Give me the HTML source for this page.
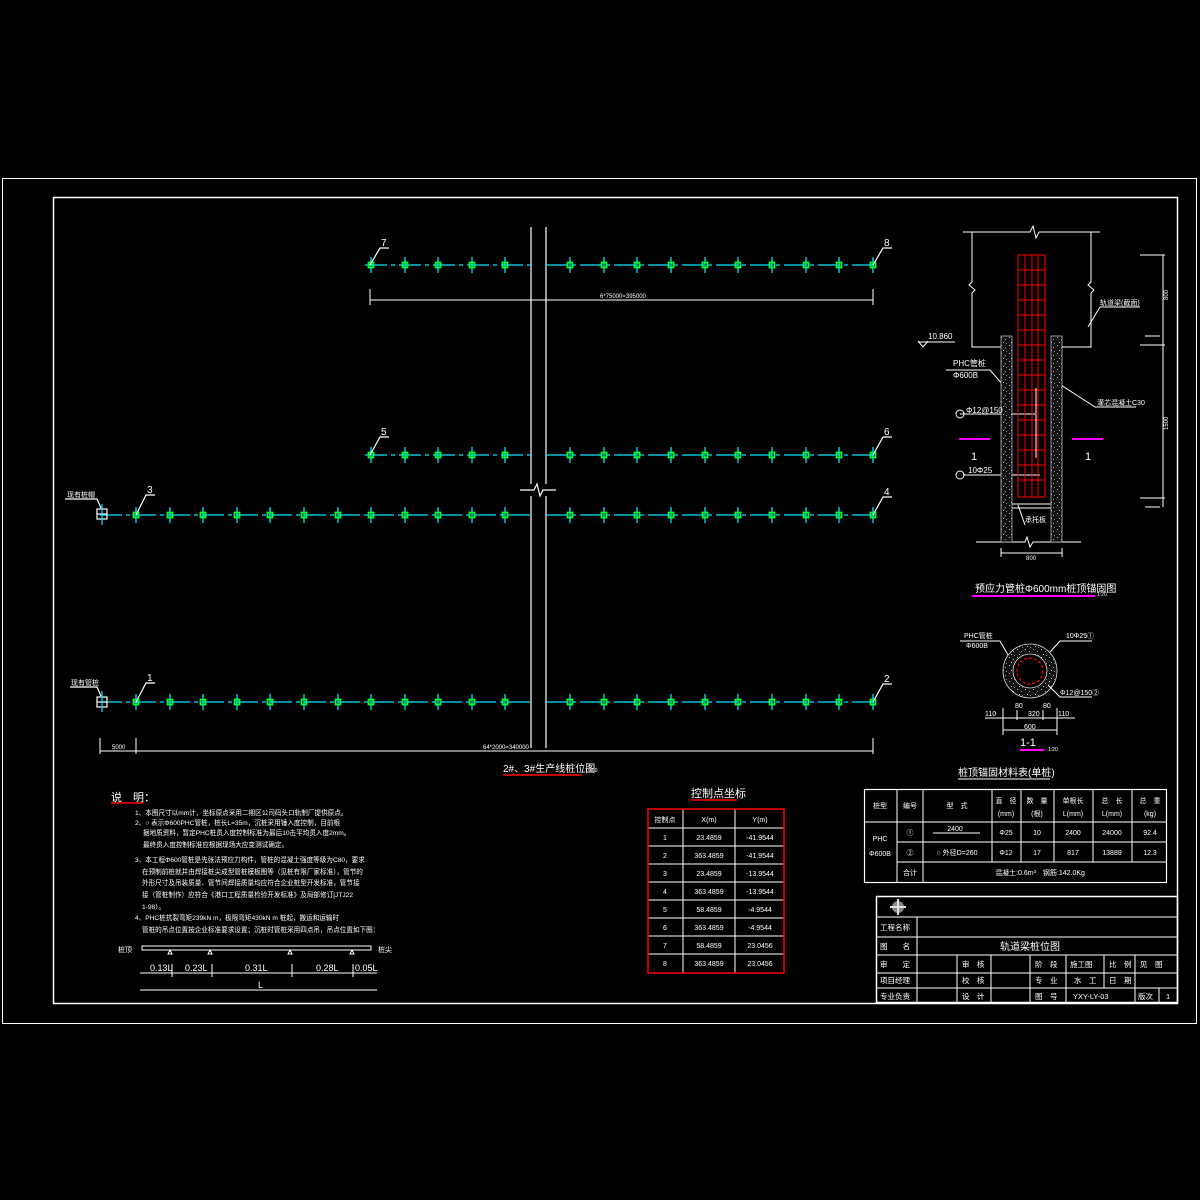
<!DOCTYPE html>
<html><head><meta charset="utf-8"><style>
html,body{margin:0;padding:0;background:#000;}
svg{display:block;}
text{font-family:"Liberation Sans","Noto Sans CJK SC",sans-serif;fill:#fff;}
</style></head><body>
<svg width="1200" height="1200" viewBox="0 0 1200 1200" xmlns="http://www.w3.org/2000/svg">
<defs>
<g id="p"><line x1="0" y1="-8" x2="0" y2="8" stroke="#00e5ff" stroke-width="1.3"/><rect x="-2.5" y="-2.5" width="5" height="5" fill="none" stroke="#00ff33" stroke-width="1.8"/></g>
<pattern id="sp" width="8" height="8" patternUnits="userSpaceOnUse"><rect width="8" height="8" fill="#111"/><rect x="1" y="1" width="1" height="1" fill="#bbb"/><rect x="5" y="3" width="1" height="1" fill="#999"/><rect x="3" y="6" width="1" height="1" fill="#ccc"/><rect x="6" y="7" width="1" height="1" fill="#888"/></pattern>
<g id="rowL"><use href="#p" x="136" y="0"/><use href="#p" x="170" y="0"/><use href="#p" x="203" y="0"/><use href="#p" x="237" y="0"/><use href="#p" x="270" y="0"/><use href="#p" x="304" y="0"/><use href="#p" x="338" y="0"/></g>
<g id="rowS"><use href="#p" x="371" y="0"/><use href="#p" x="405" y="0"/><use href="#p" x="438" y="0"/><use href="#p" x="472" y="0"/><use href="#p" x="505" y="0"/><use href="#p" x="570" y="0"/><use href="#p" x="604" y="0"/><use href="#p" x="637" y="0"/><use href="#p" x="671" y="0"/><use href="#p" x="705" y="0"/><use href="#p" x="738" y="0"/><use href="#p" x="772" y="0"/><use href="#p" x="806" y="0"/><use href="#p" x="839" y="0"/><use href="#p" x="873" y="0"/></g>
</defs>
<rect x="0" y="0" width="1200" height="1200" fill="#000"/>
<rect x="2.5" y="178.5" width="1194" height="845" fill="none" stroke="#fff" stroke-width="1"/>
<rect x="53.5" y="197.5" width="1124" height="806" fill="none" stroke="#fff" stroke-width="1.5"/>

<g stroke="#fff" stroke-width="1.2" fill="none">
<line x1="531" y1="227" x2="531" y2="484"/><line x1="531" y1="496" x2="531" y2="748"/>
<line x1="546" y1="227" x2="546" y2="484"/><line x1="546" y1="496" x2="546" y2="748"/>
<polyline points="520,490 534,490 537,484 540,496 543,490 556,490"/>
</g>

<g stroke="#00e5ff" stroke-width="1.3" stroke-dasharray="22 4 4 4" fill="none">
<line x1="100" y1="702" x2="531" y2="702"/><line x1="546" y1="702" x2="878" y2="702"/>
<line x1="100" y1="515" x2="531" y2="515"/><line x1="546" y1="515" x2="878" y2="515"/>
<line x1="365" y1="455" x2="531" y2="455"/><line x1="546" y1="455" x2="878" y2="455"/>
<line x1="365" y1="265" x2="531" y2="265"/><line x1="546" y1="265" x2="878" y2="265"/>
</g>
<use href="#rowL" y="702"/><use href="#rowS" y="702"/>
<use href="#rowL" y="515"/><use href="#rowS" y="515"/>
<use href="#rowS" y="455"/><use href="#rowS" y="265"/>

<g stroke="#fff" fill="none" stroke-width="1.2">
<rect x="97" y="509" width="10" height="10"/><line x1="97" y1="514" x2="107" y2="514"/>
<rect x="97" y="697" width="10" height="10"/><line x1="97" y1="702" x2="107" y2="702"/>
<line x1="102" y1="504" x2="102" y2="525" stroke="#00e5ff"/><line x1="102" y1="691" x2="102" y2="712" stroke="#00e5ff"/>
<polyline points="65,499 97,499 101,508"/><polyline points="70,687 97,687 101,696"/>
<polyline points="136,515 146,495 155,495"/><polyline points="136,702 146,683 155,683"/>
<polyline points="370,265 380,248 389,248"/><polyline points="370,455 380,437 389,437"/>
<polyline points="873,265 883,248 892,248"/><polyline points="873,455 883,437 892,437"/>
<polyline points="873,515 883,497 892,497"/><polyline points="873,702 883,684 892,684"/>
</g>
<g font-size="10">
<text x="147" y="493">3</text><text x="147" y="681">1</text>
<text x="381" y="246">7</text><text x="381" y="435">5</text>
<text x="884" y="246">8</text><text x="884" y="435">6</text>
<text x="884" y="495">4</text><text x="884" y="682">2</text>
</g>
<text x="67" y="497" font-size="7">现有桩帽</text><text x="71" y="685" font-size="7">现有管桩</text>

<g stroke="#fff" stroke-width="1" fill="none">
<line x1="370" y1="300" x2="873" y2="300"/><line x1="370" y1="289" x2="370" y2="305"/><line x1="873" y1="289" x2="873" y2="305"/>
<line x1="100" y1="751" x2="873" y2="751"/><line x1="100" y1="738" x2="100" y2="754"/><line x1="136" y1="738" x2="136" y2="754"/><line x1="873" y1="738" x2="873" y2="754"/>
</g>
<text x="600" y="298" font-size="6">6*75000=395000</text>
<text x="112" y="749" font-size="6">5000</text>
<text x="483" y="749" font-size="6">64*2000=340000</text>
<text x="503" y="772" font-size="10">2#、3#生产线桩位图</text><text x="585" y="772" font-size="5">1:200</text>
<line x1="503" y1="775" x2="582" y2="775" stroke="#f00" stroke-width="1.5"/>

<text x="111" y="801" font-size="11">说　明：</text>
<line x1="111" y1="803" x2="143" y2="803" stroke="#f00" stroke-width="1.5"/>
<g font-size="6.6">
<text x="135" y="815">1、本图尺寸以mm计，坐标原点采用二期区公司码头口轨制厂提供原点。</text>
<text x="135" y="825">2、○ 表示Φ600PHC管桩，桩长L=35m，沉桩采用锤入度控制，目前根</text>
<text x="143" y="835">据地质资料，暂定PHC桩贯入度控制标准为最后10击平均贯入度2mm。</text>
<text x="143" y="847">最终贯入度控制标准应根据现场大应变测试确定。</text>
<text x="135" y="862">3、本工程Φ600管桩是先张法预应力构件，管桩的混凝土强度等级为C80，要求</text>
<text x="142" y="874">在预制前桩就并由焊接桩尖成型管桩模板图等（见桩有限厂家标准），管节的</text>
<text x="142" y="885">外形尺寸及吊装质量、管节间焊接质量均应符合企业桩型开发标准，管节接</text>
<text x="142" y="897">接（管桩制作）应符合《港口工程质量检验开发标准》及局部修订[JTJ22</text>
<text x="142" y="909">1-98）。</text>
<text x="135" y="920">4、PHC桩抗裂弯矩239kN m，极限弯矩430kN m 桩起，搬运和运输时</text>
<text x="142" y="932">管桩的吊点位置按企业标准要求设置；沉桩时管桩采用四点吊，吊点位置如下图：</text>
</g>
<rect x="142" y="946" width="229" height="4" fill="none" stroke="#fff" stroke-width="1"/>
<text x="118" y="952" font-size="7">桩顶</text><text x="378" y="952" font-size="7">桩尖</text>
<g stroke="#fff" fill="none" stroke-width="1">
<path d="M170,950 l2,4 h-4 z M210,950 l2,4 h-4 z M290,950 l2,4 h-4 z M352,950 l2,4 h-4 z"/>
<line x1="140" y1="973" x2="377" y2="973"/><line x1="140" y1="990" x2="377" y2="990"/>
<line x1="172" y1="964" x2="172" y2="977"/><line x1="212" y1="964" x2="212" y2="977"/><line x1="292" y1="964" x2="292" y2="977"/><line x1="353" y1="964" x2="353" y2="977"/>
</g>
<g font-size="9"><text x="150" y="971">0.13L</text><text x="185" y="971">0.23L</text><text x="245" y="971">0.31L</text><text x="316" y="971">0.28L</text><text x="355" y="971">0.05L</text><text x="258" y="988">L</text></g>

<text x="691" y="797" font-size="11">控制点坐标</text>
<line x1="691" y1="800" x2="737" y2="800" stroke="#f00" stroke-width="1.5"/>
<g stroke="#fff" stroke-width="1" fill="none">
<line x1="683" y1="809" x2="683" y2="973"/><line x1="735" y1="809" x2="735" y2="973"/>
<line x1="648" y1="828" x2="784" y2="828"/><line x1="648" y1="846" x2="784" y2="846"/><line x1="648" y1="864" x2="784" y2="864"/><line x1="648" y1="882" x2="784" y2="882"/><line x1="648" y1="900" x2="784" y2="900"/><line x1="648" y1="918" x2="784" y2="918"/><line x1="648" y1="936" x2="784" y2="936"/><line x1="648" y1="954" x2="784" y2="954"/>
</g>
<rect x="648" y="809" width="136" height="164" fill="none" stroke="#f00" stroke-width="1.5"/>
<g font-size="7" text-anchor="middle">
<text x="665" y="822">控制点</text><text x="709" y="822">X(m)</text><text x="760" y="822">Y(m)</text>
<text x="665" y="840">1</text><text x="709" y="840">23.4859</text><text x="760" y="840">-41.9544</text>
<text x="665" y="858">2</text><text x="709" y="858">363.4859</text><text x="760" y="858">-41.9544</text>
<text x="665" y="876">3</text><text x="709" y="876">23.4859</text><text x="760" y="876">-13.9544</text>
<text x="665" y="894">4</text><text x="709" y="894">363.4859</text><text x="760" y="894">-13.9544</text>
<text x="665" y="912">5</text><text x="709" y="912">58.4859</text><text x="760" y="912">-4.9544</text>
<text x="665" y="930">6</text><text x="709" y="930">363.4859</text><text x="760" y="930">-4.9544</text>
<text x="665" y="948">7</text><text x="709" y="948">58.4859</text><text x="760" y="948">23.0456</text>
<text x="665" y="966">8</text><text x="709" y="966">363.4859</text><text x="760" y="966">23.0456</text>
</g>

<g stroke="#fff" stroke-width="1" fill="none">
<polyline points="963,232 1030,232 1033,226 1036,238 1039,232 1100,232"/>
<polyline points="972,232 972,282 969,285 975,290 972,293 972,347 1003,347"/>
<polyline points="1091,232 1091,282 1088,285 1094,290 1091,293 1091,347 1061,347"/>
<polyline points="976,542 1025,542 1027,537 1030,547 1033,542 1081,542"/>
<line x1="1001" y1="553" x2="1062" y2="553"/><line x1="1001" y1="548" x2="1001" y2="557"/><line x1="1062" y1="548" x2="1062" y2="557"/>
<line x1="1163" y1="255" x2="1163" y2="507"/><line x1="1140" y1="255" x2="1165" y2="255"/><line x1="1140" y1="345" x2="1165" y2="345"/><line x1="1140" y1="498" x2="1165" y2="498"/>
<line x1="1145" y1="336" x2="1160" y2="336"/><line x1="1145" y1="507" x2="1160" y2="507"/>
<polyline points="918,342 955,342"/><polyline points="918,341 923,347 928,341"/>
<polyline points="946,370 990,370 1003,385"/><polyline points="1095,407 1136,407"/><line x1="1095" y1="407" x2="1050" y2="378"/>
<polyline points="960,414 1035,414"/><polyline points="963,475 1040,475"/>
<polyline points="1025,525 1018,505"/><polyline points="1100,307 1140,307"/><line x1="1100" y1="307" x2="1088" y2="327"/>
<line x1="1012" y1="504" x2="1051" y2="504"/><line x1="1012" y1="508" x2="1051" y2="508"/>
<circle cx="960" cy="414" r="4"/><circle cx="960" cy="475" r="4"/>
</g>
<rect x="1001" y="336" width="11" height="206" fill="url(#sp)" stroke="#ccc" stroke-width="0.7"/>
<rect x="1051" y="336" width="11" height="206" fill="url(#sp)" stroke="#ccc" stroke-width="0.7"/>
<g stroke="#f00" stroke-width="1" fill="none">
<rect x="1018" y="255" width="27" height="242"/>
<line x1="1025" y1="255" x2="1025" y2="497"/><line x1="1032" y1="255" x2="1032" y2="497"/><line x1="1038" y1="255" x2="1038" y2="497"/>
<path d="M1018,270h27M1018,285h27M1018,300h27M1018,315h27M1018,330h27M1018,345h27M1018,360h27M1018,375h27M1018,390h27M1018,405h27M1018,420h27M1018,435h27M1018,450h27M1018,465h27M1018,480h27"/>
</g>
<line x1="1036" y1="388" x2="1036" y2="458" stroke="#fff" stroke-width="1"/>
<g stroke="#f0f" stroke-width="2"><line x1="959" y1="439" x2="990" y2="439"/><line x1="1072" y1="439" x2="1103" y2="439"/></g>
<g font-size="8">
<text x="928" y="339">10.860</text><text x="953" y="366">PHC管桩</text><text x="953" y="378">Φ600B</text>
<text x="966" y="413">Φ12@150</text><text x="968" y="473">10Φ25</text>
<text x="1100" y="305" font-size="7">轨道梁(截面)</text><text x="1097" y="405" font-size="7">灌芯混凝土C30</text>
<text x="1025" y="522" font-size="7">承托板</text><text x="1026" y="560" font-size="6">800</text>
</g>
<text x="971" y="460" font-size="11">1</text><text x="1085" y="460" font-size="11">1</text>
<g font-size="6"><text x="1168" y="300" transform="rotate(-90 1168 300)">800</text><text x="1168" y="430" transform="rotate(-90 1168 430)">1500</text></g>
<text x="975" y="592" font-size="10">预应力管桩Φ600mm桩顶锚固图</text><text x="1097" y="596" font-size="5">1:20</text>
<line x1="972" y1="596" x2="1095" y2="596" stroke="#f0f" stroke-width="2"/>

<circle cx="1030" cy="671" r="22" fill="none" stroke="url(#sp)" stroke-width="10"/>
<circle cx="1030" cy="671" r="27" fill="none" stroke="#ddd" stroke-width="0.8"/>
<circle cx="1030" cy="671" r="17" fill="none" stroke="#ddd" stroke-width="0.8"/>
<circle cx="1030" cy="671" r="13" fill="none" stroke="#f00" stroke-width="1.2" stroke-dasharray="3 2"/>
<g stroke="#fff" stroke-width="1" fill="none">
<polyline points="960,641 1000,641 1008,655"/><polyline points="1050,652 1060,641 1092,641"/><polyline points="1048,685 1060,697 1092,697"/>
<line x1="985" y1="718" x2="1075" y2="718"/><line x1="1003" y1="730" x2="1057" y2="730"/>
<line x1="1003" y1="708" x2="1003" y2="735"/><line x1="1057" y1="708" x2="1057" y2="735"/><line x1="1017" y1="710" x2="1017" y2="720"/><line x1="1043" y1="710" x2="1043" y2="720"/>
</g>
<g font-size="7"><text x="964" y="638">PHC管桩</text><text x="966" y="648">Φ600B</text><text x="1066" y="638">10Φ25①</text><text x="1060" y="695">Φ12@150②</text>
<text x="985" y="716">110</text><text x="1015" y="708">80</text><text x="1043" y="708">80</text><text x="1028" y="716">320</text><text x="1058" y="716">110</text><text x="1024" y="729">600</text></g>
<text x="1020" y="746" font-size="11">1-1</text><text x="1048" y="751" font-size="5">1:20</text>
<line x1="1020" y1="750" x2="1044" y2="750" stroke="#f0f" stroke-width="2"/>

<text x="958" y="776" font-size="10">桩顶锚固材料表(单桩)</text>
<line x1="958" y1="779" x2="1050" y2="779" stroke="#fff" stroke-width="1"/>
<rect x="864.5" y="789.5" width="302" height="93" fill="none" stroke="#fff" stroke-width="1.2"/>
<g stroke="#fff" stroke-width="1">
<line x1="897" y1="789" x2="897" y2="883"/><line x1="923" y1="789" x2="923" y2="883"/>
<line x1="992" y1="789" x2="992" y2="862"/><line x1="1021" y1="789" x2="1021" y2="862"/><line x1="1054" y1="789" x2="1054" y2="862"/><line x1="1093" y1="789" x2="1093" y2="862"/><line x1="1132" y1="789" x2="1132" y2="862"/>
<line x1="864" y1="822" x2="1167" y2="822"/><line x1="897" y1="842" x2="1167" y2="842"/><line x1="897" y1="862" x2="1167" y2="862"/>
<line x1="933" y1="833" x2="980" y2="833"/>
</g>
<g font-size="7" text-anchor="middle">
<text x="880" y="808">桩型</text><text x="910" y="808">编号</text><text x="957" y="808">型　式</text>
<text x="1006" y="803">直　径</text><text x="1006" y="816">(mm)</text><text x="1037" y="803">数　量</text><text x="1037" y="816">(根)</text>
<text x="1073" y="803">单根长</text><text x="1073" y="816">L(mm)</text><text x="1112" y="803">总　长</text><text x="1112" y="816">L(mm)</text><text x="1150" y="803">总　重</text><text x="1150" y="816">(kg)</text>
<text x="880" y="841">PHC</text><text x="880" y="856">Φ600B</text>
<text x="910" y="835">①</text><text x="910" y="855">②</text>
<text x="955" y="831">2400</text><text x="957" y="855">○ 外径D=260</text>
<text x="1006" y="835">Φ25</text><text x="1006" y="855">Φ12</text><text x="1037" y="835">10</text><text x="1037" y="855">17</text>
<text x="1073" y="835">2400</text><text x="1073" y="855">817</text><text x="1112" y="835">24000</text><text x="1112" y="855">13889</text>
<text x="1150" y="835">92.4</text><text x="1150" y="855">12.3</text>
<text x="910" y="875">合计</text><text x="1040" y="875">混凝土:0.6m³　钢筋:142.0Kg</text>
</g>

<rect x="876.5" y="896.5" width="301" height="106" fill="none" stroke="#fff" stroke-width="1.5"/>
<g stroke="#fff" stroke-width="1">
<line x1="876" y1="917" x2="1178" y2="917"/><line x1="876" y1="937" x2="1178" y2="937"/><line x1="876" y1="955" x2="1178" y2="955"/><line x1="876" y1="973" x2="1178" y2="973"/><line x1="876" y1="988" x2="1178" y2="988"/>
<line x1="917" y1="917" x2="917" y2="1003"/>
<line x1="957" y1="955" x2="957" y2="1003"/><line x1="991" y1="955" x2="991" y2="1003"/><line x1="1030" y1="955" x2="1030" y2="1003"/><line x1="1066" y1="955" x2="1066" y2="1003"/><line x1="1104" y1="955" x2="1104" y2="988"/><line x1="1135" y1="955" x2="1135" y2="1003"/><line x1="1159" y1="988" x2="1159" y2="1003"/>
</g>
<g transform="translate(898,907)"><circle r="6" fill="#888"/><path d="M-8,0h16M0,-8v16" stroke="#ddd" stroke-width="2"/></g>
<g font-size="7.5">
<text x="880" y="930">工程名称</text><text x="880" y="949">图　　名</text>
<text x="880" y="967">审　　定</text><text x="880" y="983">项目经理</text><text x="880" y="999">专业负责</text>
<text x="962" y="967">审　核</text><text x="962" y="983">校　核</text><text x="962" y="999">设　计</text>
<text x="1035" y="967">阶　段</text><text x="1035" y="983">专　业</text><text x="1035" y="999">图　号</text>
<text x="1070" y="967">施工图</text><text x="1074" y="983">水　工</text><text x="1073" y="999">YXY-LY-03</text>
<text x="1109" y="967">比　例</text><text x="1109" y="983">日　期</text><text x="1140" y="967">见　图</text><text x="1138" y="999">版次</text><text x="1166" y="999">1</text>
</g>
<text x="1000" y="950" font-size="10">轨道梁桩位图</text>
</svg>
</body></html>
